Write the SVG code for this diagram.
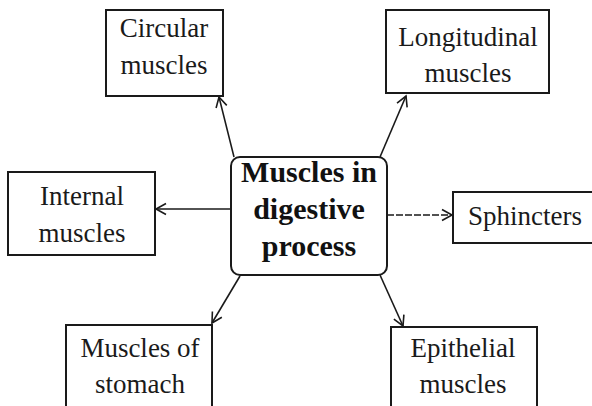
<svg xmlns="http://www.w3.org/2000/svg" width="592" height="406" viewBox="0 0 592 406">
<defs>
<style>
.box{fill:#fff;stroke:#1a1a1a;stroke-width:2}
.lbl{font-family:"Liberation Serif",serif;font-size:27px;fill:#1a1a1a;text-anchor:middle}
.ctr{font-family:"Liberation Serif",serif;font-size:30px;font-weight:bold;fill:#111;text-anchor:middle}
.con{fill:none;stroke:#1a1a1a;stroke-width:1.6}
</style>
<marker id="ah" markerUnits="userSpaceOnUse" markerWidth="14" markerHeight="14" refX="11" refY="6" orient="auto" viewBox="0 0 14 12">
<path d="M1,0.5 L11,6 L1,11.5" fill="none" stroke="#1a1a1a" stroke-width="1.6"/>
</marker>
</defs>
<rect width="592" height="406" fill="#fff"/>
<g id="connectors">
<line class="con" x1="234" y1="157" x2="219" y2="97" marker-end="url(#ah)"/>
<line class="con" x1="380" y1="157" x2="406" y2="96" marker-end="url(#ah)"/>
<line class="con" x1="231" y1="209" x2="156" y2="209" marker-end="url(#ah)"/>
<line class="con" x1="387" y1="215" x2="452" y2="215" stroke-dasharray="7 2" marker-end="url(#ah)"/>
<line class="con" x1="240" y1="276" x2="212" y2="323" marker-end="url(#ah)"/>
<line class="con" x1="380" y1="275" x2="403" y2="326" marker-end="url(#ah)"/>
</g>
<g id="center">
<rect class="box" x="231" y="157" width="156" height="118" rx="9"/>
<text class="ctr" x="309" y="182">Muscles in</text>
<text class="ctr" x="309" y="219">digestive</text>
<text class="ctr" x="309" y="256">process</text>
</g>
<g id="circular">
<rect class="box" x="106" y="10" width="117" height="86"/>
<text class="lbl" x="164" y="37">Circular</text>
<text class="lbl" x="164" y="74">muscles</text>
</g>
<g id="longitudinal">
<rect class="box" x="386" y="10" width="163" height="83"/>
<text class="lbl" x="468" y="46">Longitudinal</text>
<text class="lbl" x="468" y="82">muscles</text>
</g>
<g id="internal">
<rect class="box" x="8" y="172" width="147" height="83"/>
<text class="lbl" x="82" y="205">Internal</text>
<text class="lbl" x="82" y="242">muscles</text>
</g>
<g id="sphincters">
<rect class="box" x="453" y="192" width="150" height="51"/>
<text class="lbl" x="525" y="225">Sphincters</text>
</g>
<g id="stomach">
<rect class="box" x="66" y="325" width="146" height="90"/>
<text class="lbl" x="140" y="357">Muscles of</text>
<text class="lbl" x="140" y="393">stomach</text>
</g>
<g id="epithelial">
<rect class="box" x="391" y="327" width="146" height="90"/>
<text class="lbl" x="463" y="357">Epithelial</text>
<text class="lbl" x="463" y="393">muscles</text>
</g>
</svg>
